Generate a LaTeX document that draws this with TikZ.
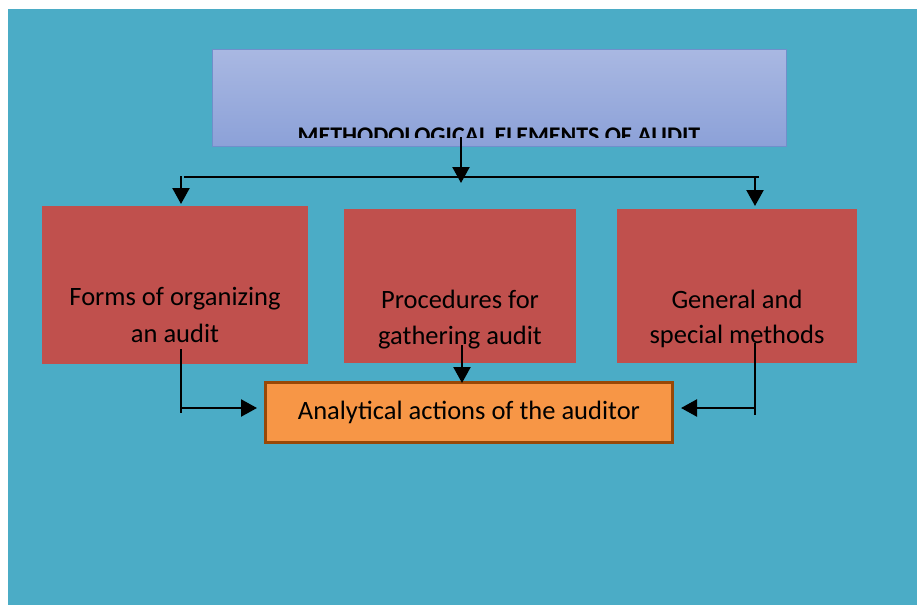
\documentclass[tikz,border=0pt]{standalone}
\usepackage{fontspec}
\setmainfont{Carlito}
\usetikzlibrary{arrows.meta}
\definecolor{bgteal}{HTML}{4BACC6}
\definecolor{boxred}{HTML}{C0504D}
\definecolor{boxorange}{HTML}{F79646}
\definecolor{orangeedge}{HTML}{984807}
\definecolor{bluetop}{HTML}{A9B8E2}
\definecolor{bluebot}{HTML}{8CA1D8}
\definecolor{blueedge}{HTML}{6F8FCB}
\tikzset{
  redbox/.style={draw=none, fill=boxred, rectangle, inner sep=0pt},
  lbl/.style={anchor=base, inner sep=0pt, font=\fontsize{26.5}{37}\selectfont, text=black},
  ttl/.style={anchor=base, inner sep=0pt, font=\fontsize{23.9}{28}\selectfont\bfseries, text=black},
  conn/.style={line width=2.3pt, draw=black},
  arr/.style={conn, -{Triangle[length=16pt,width=17pt]}}
}
\begin{document}
\begin{tikzpicture}[x=1pt,y=-1pt]
\useasboundingbox (0,0) rectangle (917,605);
\fill[white] (0,0) rectangle (917,605);
\fill[bgteal] (8,9) rectangle (917,605);
% top box
\node[draw=blueedge, line width=1pt, top color=bluetop, bottom color=bluebot, rectangle, inner sep=0pt,
      minimum width=574pt, minimum height=97pt] (top) at (499,97.5) {};
\begin{scope}
\clip (212,110) rectangle (786,137.7);
\node[ttl] (title) at (499,143) {METHODOLOGICAL ELEMENTS OF AUDIT};
\end{scope}
% red boxes
\node[redbox, minimum width=266pt, minimum height=158pt] (b1) at (175,285) {};
\node[redbox, minimum width=232pt, minimum height=154pt] (b2) at (460,286) {};
\node[redbox, minimum width=240pt, minimum height=154pt] (b3) at (737,286) {};
\node[lbl] (b1a) at (175,305) {Forms of organizing};
\node[lbl] (b1b) at (175,342) {an audit};
\node[lbl] (b2a) at (460,308) {Procedures for};
\node[lbl] (b2b) at (460,344) {gathering audit};
\node[lbl] (b3a) at (737,308) {General and};
\node[lbl] (b3b) at (737,343) {special methods};
% orange box
\node[draw=orangeedge, line width=3pt, fill=boxorange, rectangle, inner sep=0pt,
      minimum width=407pt, minimum height=60pt] (ana) at (469,412.5) {};
\node[lbl] (anat) at (469,419) {Analytical actions of the auditor};
% coordinates
\coordinate (ts) at (461,137);
\coordinate (tm) at (461,183);
\coordinate (busL) at (184,176.7);
\coordinate (busR) at (759,176.7);
\coordinate (l0) at (181,176);
\coordinate (l1) at (181,204);
\coordinate (r0) at (755,176);
\coordinate (r1) at (755,206);
\coordinate (c1s) at (181,349);
\coordinate (c1e) at (181,413);
\coordinate (c1h) at (181,408);
\coordinate (c1t) at (257,408);
\coordinate (c2s) at (462,345);
\coordinate (c2t) at (462,383);
\coordinate (c3s) at (755,343);
\coordinate (c3e) at (755,415);
\coordinate (c3h) at (755,408);
\coordinate (c3t) at (681,408);
% connectors
\draw[arr] (ts) -- (tm);
\draw[conn] (busL) -- (busR);
\draw[arr] (l0) -- (l1);
\draw[arr] (r0) -- (r1);
\draw[conn] (c1s) -- (c1e);
\draw[arr] (c1h) -- (c1t);
\draw[arr] (c2s) -- (c2t);
\draw[conn] (c3s) -- (c3e);
\draw[arr] (c3h) -- (c3t);
\end{tikzpicture}
\end{document}
